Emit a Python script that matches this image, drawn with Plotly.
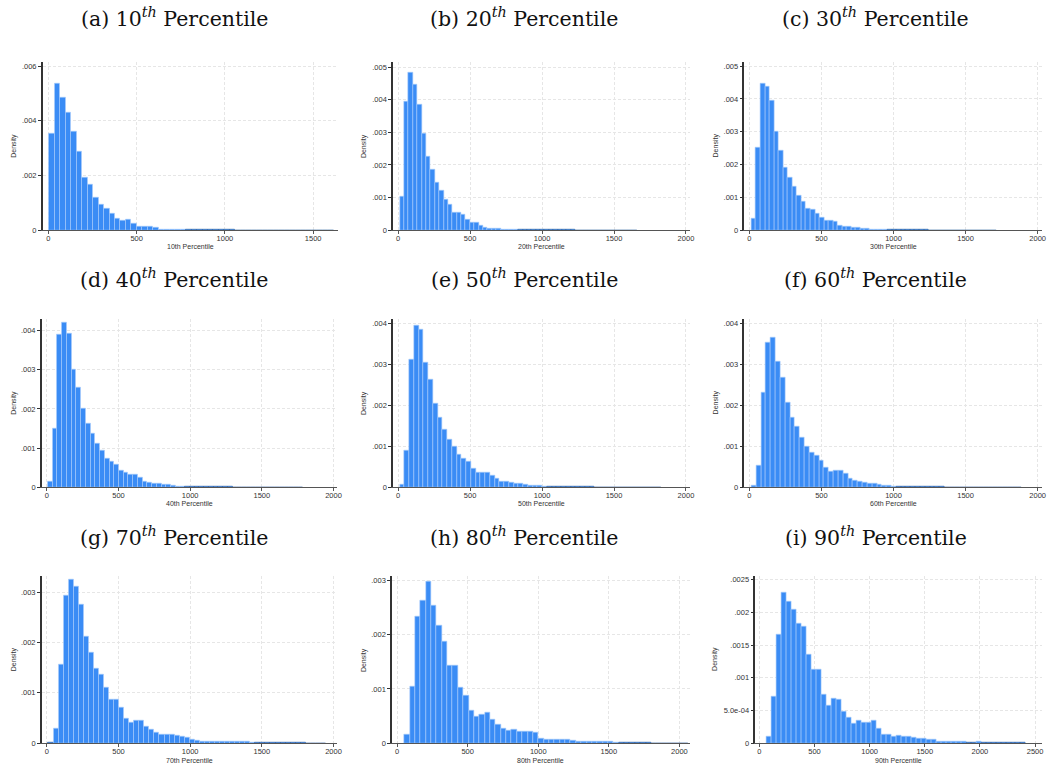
import plotly.graph_objects as go

W, H = 1049, 773

# ---------------- data (density values in units of 0.001) ----------------
labels = ["10th Percentile", "20th Percentile", "30th Percentile",
          "40th Percentile", "50th Percentile", "60th Percentile",
          "70th Percentile", "80th Percentile", "90th Percentile"]
letters = ["a", "b", "c", "d", "e", "f", "g", "h", "i"]
pct = ["10", "20", "30", "40", "50", "60", "70", "80", "90"]

# histogram bin start and bin width for each panel
bin_start = [4, 11, 14, 7, 11.5, 14, 10, 51, 66]
bin_width = [31, 30.5, 31.5, 33, 33, 33.5, 35.2, 38, 45.2]

dens_a = [3.55, 5.35, 4.87, 4.32, 3.60, 2.88, 1.92, 1.68, 1.20, 0.95, 0.80, 0.60, 0.42, 0.35, 0.38, 0.25,
          0.15, 0.15, 0.15, 0.08, 0.03, 0.025, 0.02, 0.02, 0.02, 0.015, 0.015, 0.01, 0.015, 0.01, 0.01,
          0.01, 0.008, 0.008, 0.006, 0.006, 0.005, 0.005, 0.004, 0, 0, 0, 0, 0.004, 0, 0, 0, 0, 0, 0, 0, 0.004]
dens_b = [1.03, 3.95, 4.83, 4.45, 3.85, 2.97, 2.25, 1.87, 1.47, 1.22, 0.95, 0.80, 0.55, 0.55, 0.47, 0.33,
          0.25, 0.25, 0.15, 0.08, 0.05, 0.05, 0.04, 0.03, 0.025, 0.02, 0.02, 0.015, 0.015, 0.015, 0.01,
          0.01, 0.01, 0.01, 0.008, 0.008, 0.008, 0.006, 0.006, 0.006, 0.005, 0.005, 0.004, 0.004, 0,
          0.004, 0, 0, 0, 0, 0, 0, 0, 0.004]
dens_c = [0.37, 2.52, 4.47, 4.38, 3.95, 3.00, 2.42, 1.92, 1.60, 1.32, 1.05, 0.88, 0.65, 0.63, 0.52, 0.40,
          0.30, 0.30, 0.25, 0.15, 0.10, 0.10, 0.08, 0.07, 0.05, 0.04, 0.03, 0.025, 0.02, 0.02, 0.015, 0.015,
          0.01, 0.01, 0.01, 0.008, 0.008, 0.006, 0.006, 0.005, 0.005, 0.004, 0.004, 0.004, 0.003, 0.003,
          0.003, 0.003, 0, 0.004, 0, 0, 0, 0.004]
dens_d = [0.15, 1.50, 3.90, 4.20, 3.93, 3.00, 2.55, 2.00, 1.62, 1.37, 1.12, 0.95, 0.73, 0.66, 0.58, 0.43,
          0.38, 0.33, 0.32, 0.25, 0.15, 0.12, 0.10, 0.10, 0.08, 0.06, 0.04, 0.03, 0.02, 0.015, 0.012, 0.01,
          0.01, 0.008, 0.008, 0.006, 0.006, 0.005, 0.005, 0.004, 0.004, 0.004, 0.003, 0.003, 0.003, 0.003,
          0.003, 0.003, 0.003, 0.003, 0, 0, 0, 0.003]
dens_e = [0.06, 0.90, 3.10, 3.95, 3.85, 3.03, 2.62, 2.03, 1.70, 1.40, 1.17, 1.00, 0.80, 0.70, 0.62, 0.45,
          0.37, 0.37, 0.36, 0.29, 0.20, 0.15, 0.13, 0.12, 0.10, 0.09, 0.07, 0.05, 0.04, 0.03, 0.02, 0.015,
          0.012, 0.01, 0.01, 0.008, 0.008, 0.006, 0.006, 0.005, 0.005, 0.004, 0.004, 0.004, 0.003, 0.003,
          0.003, 0.003, 0.003, 0.003, 0.003, 0.003, 0.002, 0, 0.003]
dens_f = [0.04, 0.53, 2.30, 3.52, 3.65, 3.07, 2.68, 2.07, 1.70, 1.47, 1.22, 1.00, 0.85, 0.77, 0.65, 0.47,
          0.38, 0.40, 0.40, 0.33, 0.20, 0.17, 0.15, 0.12, 0.10, 0.08, 0.07, 0.05, 0.03, 0.02, 0.015, 0.012,
          0.01, 0.01, 0.008, 0.008, 0.006, 0.006, 0.005, 0.005, 0.004, 0.004, 0.004, 0.003, 0.003, 0.003,
          0.003, 0.003, 0.003, 0.003, 0.003, 0.003, 0.003, 0.003, 0.003, 0.002]
dens_g = [0.01, 0.30, 1.56, 2.93, 3.26, 3.11, 2.75, 2.12, 1.81, 1.48, 1.36, 1.10, 0.875, 0.875, 0.70, 0.49,
          0.42, 0.46, 0.46, 0.34, 0.28, 0.22, 0.18, 0.18, 0.17, 0.15, 0.14, 0.11, 0.07, 0.05, 0.04, 0.04,
          0.035, 0.035, 0.03, 0.03, 0.03, 0.03, 0.025, 0.025, 0.02, 0.01, 0.01, 0.008, 0.006, 0.006, 0.005,
          0.005, 0.004, 0.004, 0.004, 0.003, 0.003, 0.003, 0.002]
dens_h = [0.16, 1.05, 2.33, 2.62, 2.97, 2.53, 2.16, 1.87, 1.43, 1.44, 1.02, 0.88, 0.61, 0.50, 0.53, 0.57,
          0.43, 0.35, 0.27, 0.23, 0.25, 0.22, 0.21, 0.21, 0.20, 0.08, 0.07, 0.07, 0.07, 0.065, 0.06, 0.045,
          0.04, 0.035, 0.035, 0.03, 0.03, 0.025, 0.025, 0.02, 0.006, 0.005, 0.005, 0.004, 0.004, 0.004,
          0.003, 0.003, 0.003, 0.003, 0.003, 0.003, 0.003]
dens_i = [0.10, 0.72, 1.66, 2.31, 2.17, 2.05, 1.83, 1.79, 1.35, 1.13, 1.13, 0.75, 0.58, 0.69, 0.67, 0.49,
          0.40, 0.30, 0.34, 0.31, 0.31, 0.34, 0.22, 0.13, 0.13, 0.11, 0.12, 0.10, 0.11, 0.09, 0.07, 0.065,
          0.06, 0.05, 0.025, 0.025, 0.02, 0.02, 0.02, 0.02, 0.015, 0.015, 0.02, 0.015, 0.01, 0.006, 0.005,
          0.005, 0.004, 0.004, 0.004, 0.003]
densities = [dens_a, dens_b, dens_c, dens_d, dens_e, dens_f, dens_g, dens_h, dens_i]

# y ticks (values in 0.001 units) and labels
ytick_vals = [[0, 2, 4, 6], [0, 1, 2, 3, 4, 5], [0, 1, 2, 3, 4, 5],
              [0, 1, 2, 3, 4], [0, 1, 2, 3, 4], [0, 1, 2, 3, 4],
              [0, 1, 2, 3], [0, 1, 2, 3], [0, 0.5, 1, 1.5, 2, 2.5]]
ytick_text = [["0", ".002", ".004", ".006"],
              ["0", ".001", ".002", ".003", ".004", ".005"],
              ["0", ".001", ".002", ".003", ".004", ".005"],
              ["0", ".001", ".002", ".003", ".004"],
              ["0", ".001", ".002", ".003", ".004"],
              ["0", ".001", ".002", ".003", ".004"],
              ["0", ".001", ".002", ".003"],
              ["0", ".001", ".002", ".003"],
              ["0", "5.0e-04", ".001", ".0015", ".002", ".0025"]]
xtick_vals = [[0, 500, 1000, 1500]] + [[0, 500, 1000, 1500, 2000]] * 7 + [[0, 500, 1000, 1500, 2000, 2500]]

# ---------------- layout geometry (pixels) ----------------
plot_px = [  # x0, x1, ytop, ybottom
    (43, 340, 61, 231), (395, 693, 61, 231), (748, 1047, 61, 231),
    (42, 339, 320, 490), (395, 693, 320, 490), (748, 1047, 320, 490),
    (42, 339, 579, 748), (394, 693, 580, 748), (759, 1047, 579, 748),
]
x_ranges = [(-32, 1643), (-35, 2026), (-34, 2030), (-35, 2027), (-35, 2026), (-34, 2030),
            (-35, 2027), (-35, 2073), (-36, 2563)]
y_tops = [6.17, 5.17, 5.14, 4.31, 4.11, 4.11, 3.33, 3.07, 2.565]
title_cx = [175, 527, 880]
title_cy = [17, 280, 540]
ytitle_x = [14, 366, 719]
xtitle_gap = [16, 16, 17.5]

BAR = "#3a8cf5"
BAR_LINE = "#a9cdfc"
TAIL_LINE = "#2f5f9f"
AX = "#333333"
GRID = "#e6e6e6"
TICKFONT = dict(family="Liberation Sans, Arial, sans-serif", size=7.5, color="#333333")

fig = go.Figure()
annotations = []
layout_axes = {}

for k in range(9):
    x0, x1, yt, yb = plot_px[k]
    xs = [bin_start[k] + bin_width[k] * (j + 0.5) for j in range(len(densities[k]))]
    line_cols = [BAR_LINE if v >= 0.02 else TAIL_LINE for v in densities[k]]
    xa = "x" if k == 0 else f"x{k+1}"
    ya = "y" if k == 0 else f"y{k+1}"
    fig.add_trace(go.Bar(
        x=xs, y=densities[k], width=bin_width[k],
        marker=dict(color=BAR, line=dict(color=line_cols, width=0.6)),
        xaxis=xa, yaxis=ya, showlegend=False, hoverinfo="skip",
    ))
    xkey = "xaxis" if k == 0 else f"xaxis{k+1}"
    ykey = "yaxis" if k == 0 else f"yaxis{k+1}"
    layout_axes[xkey] = dict(
        domain=[x0 / W, x1 / W], anchor=ya, range=list(x_ranges[k]),
        tickvals=xtick_vals[k], ticktext=[str(v) for v in xtick_vals[k]],
        showline=True, linecolor="#555555", linewidth=1.2,
        ticks="outside", ticklen=3, tickcolor="#555555", tickwidth=1,
        ticklabelstandoff=-2,
        showgrid=True, gridcolor=GRID, griddash="3px,2px", gridwidth=1,
        zeroline=False, tickfont=TICKFONT, fixedrange=True,
    )
    layout_axes[ykey] = dict(
        domain=[1 - yb / H, 1 - yt / H], anchor=xa, range=[0, y_tops[k]],
        tickvals=ytick_vals[k], ticktext=ytick_text[k],
        showline=True, linecolor=AX, linewidth=1.5,
        ticks="outside", ticklen=3, tickcolor=AX, tickwidth=1,
        showgrid=True, gridcolor=GRID, griddash="3px,2px", gridwidth=1,
        zeroline=False, tickfont=TICKFONT, fixedrange=True,
    )
    r, c = divmod(k, 3)
    # panel title
    annotations.append(dict(
        x=title_cx[c] / W, y=1 - title_cy[r] / H, xref="paper", yref="paper",
        text=f"({letters[k]}) {pct[k]}<sup><i>th</i></sup> Percentile",
        showarrow=False, xanchor="center", yanchor="middle",
        font=dict(family="DejaVu Serif, serif", size=20.5, color="#111111"),
    ))
    # x title
    annotations.append(dict(
        x=(x0 + x1) / 2 / W, y=1 - (yb + xtitle_gap[r]) / H, xref="paper", yref="paper",
        text=labels[k], showarrow=False, xanchor="center", yanchor="middle",
        font=dict(family="Liberation Sans, Arial, sans-serif", size=7, color="#333333"),
    ))
    # y title
    annotations.append(dict(
        x=ytitle_x[c] / W, y=1 - (yt + yb) / 2 / H, xref="paper", yref="paper",
        text="Density", textangle=-90, showarrow=False, xanchor="center", yanchor="middle",
        font=dict(family="Liberation Sans, Arial, sans-serif", size=7, color="#333333"),
    ))

fig.update_layout(
    width=W, height=H, margin=dict(l=0, r=0, t=0, b=0),
    paper_bgcolor="white", plot_bgcolor="white",
    bargap=0, annotations=annotations, **layout_axes,
)

fig.write_html("out.html", config={"displayModeBar": False})
